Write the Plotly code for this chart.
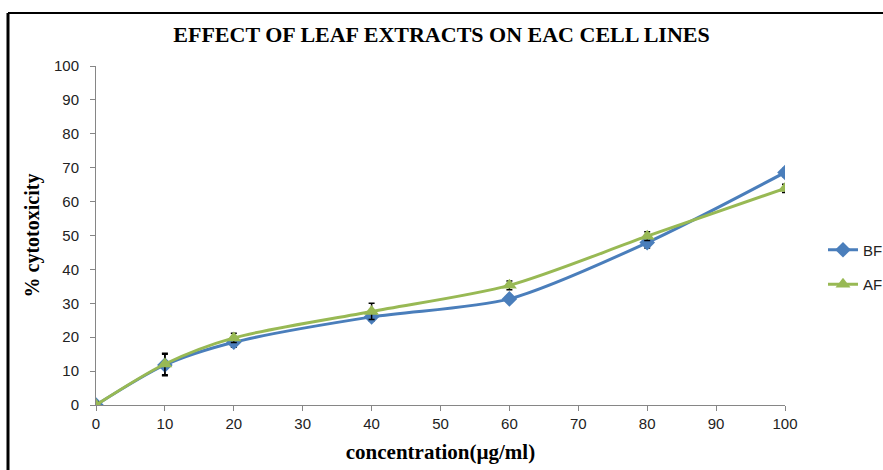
import plotly.graph_objects as go

concentration = [0, 10, 20, 40, 60, 80, 100]
bf_values = [0, 11.8, 18.5, 26.0, 31.3, 47.9, 68.6]
bf_errors = [0.8, 3.2, 1.5, 1.2, 1.0, 1.6, 1.2]
af_values = [0, 12.1, 19.8, 27.6, 35.3, 49.8, 63.9]
af_errors = [0.8, 3.2, 1.4, 2.4, 1.3, 1.3, 1.2]
x_ticks = list(range(0, 101, 10))
y_ticks = list(range(0, 101, 10))

W, H = 883, 470
L, R, T, B = 96, 98, 66, 65

fig = go.Figure()
fig.add_trace(go.Scatter(
    x=concentration, y=bf_values, name="BF", mode="lines+markers", legendgroup="bf",
    line=dict(color="#4A7EBB", width=3, shape="spline", smoothing=0.8),
    marker=dict(symbol="diamond", size=12, color="#4A7EBB"),
    error_y=dict(type="data", array=bf_errors, color="black", thickness=1.5, width=3),
))
fig.add_trace(go.Scatter(
    x=concentration, y=af_values, name="AF", mode="lines+markers", legendgroup="af",
    line=dict(color="#98B954", width=3, shape="spline", smoothing=0.8),
    marker=dict(symbol="triangle-up", size=13, color="#98B954"),
    error_y=dict(type="data", array=af_errors, color="black", thickness=1.5, width=3),
))

axis_common = dict(
    showline=True, linecolor="#868686", linewidth=1, showgrid=False, zeroline=False,
    ticks="outside", ticklen=5, tickcolor="#868686", automargin=False,
    tickfont=dict(family="Liberation Sans, Arial", size=15, color="#222"),
)
fig.update_xaxes(range=[0, 100], tickvals=x_ticks, **axis_common,
                 title=dict(text="<b>concentration(µg/ml)</b>", standoff=13,
                            font=dict(family="Liberation Serif, Times New Roman", size=21, color="black")))
fig.update_yaxes(range=[0, 100], tickvals=y_ticks, ticklabelstandoff=8, **axis_common,
                 title=dict(text="<b>% cytotoxicity</b>", standoff=8,
                            font=dict(family="Liberation Serif, Times New Roman", size=20, color="black")))

fig.update_layout(
    width=W, height=H,
    margin=dict(l=L, r=R, t=T, b=B, autoexpand=False),
    paper_bgcolor="white", plot_bgcolor="white",
    title=dict(text="<b>EFFECT OF LEAF EXTRACTS ON EAC CELL LINES</b>", x=0.5, xanchor="center",
               y=1 - 34 / H, yanchor="middle",
               font=dict(family="Liberation Serif, Times New Roman", size=22, color="black")),
    legend=dict(xref="container", yref="container", x=823 / W, y=1 - 267 / H,
                xanchor="left", yanchor="middle", itemwidth=30,
                font=dict(family="Liberation Sans, Arial", size=15, color="#222"),
                tracegroupgap=12, bgcolor="rgba(0,0,0,0)"),
    showlegend=True,
)
# outer frame (top and left edges visible)
pw = W - L - R
ph = H - T - B
fig.add_shape(type="line", xref="paper", yref="paper",
              x0=(8 - L) / pw, x1=(W + 20 - L) / pw, y0=(H - B - 13) / ph, y1=(H - B - 13) / ph,
              line=dict(color="black", width=2))
fig.add_shape(type="line", xref="paper", yref="paper",
              x0=(8 - L) / pw, x1=(8 - L) / pw, y0=(H - B - 13) / ph, y1=(H - B - H - 20) / ph,
              line=dict(color="black", width=3))

fig.write_html("out.html", config={"displayModeBar": False},
               post_script="document.body.style.margin='0';document.body.style.overflow='hidden';")
